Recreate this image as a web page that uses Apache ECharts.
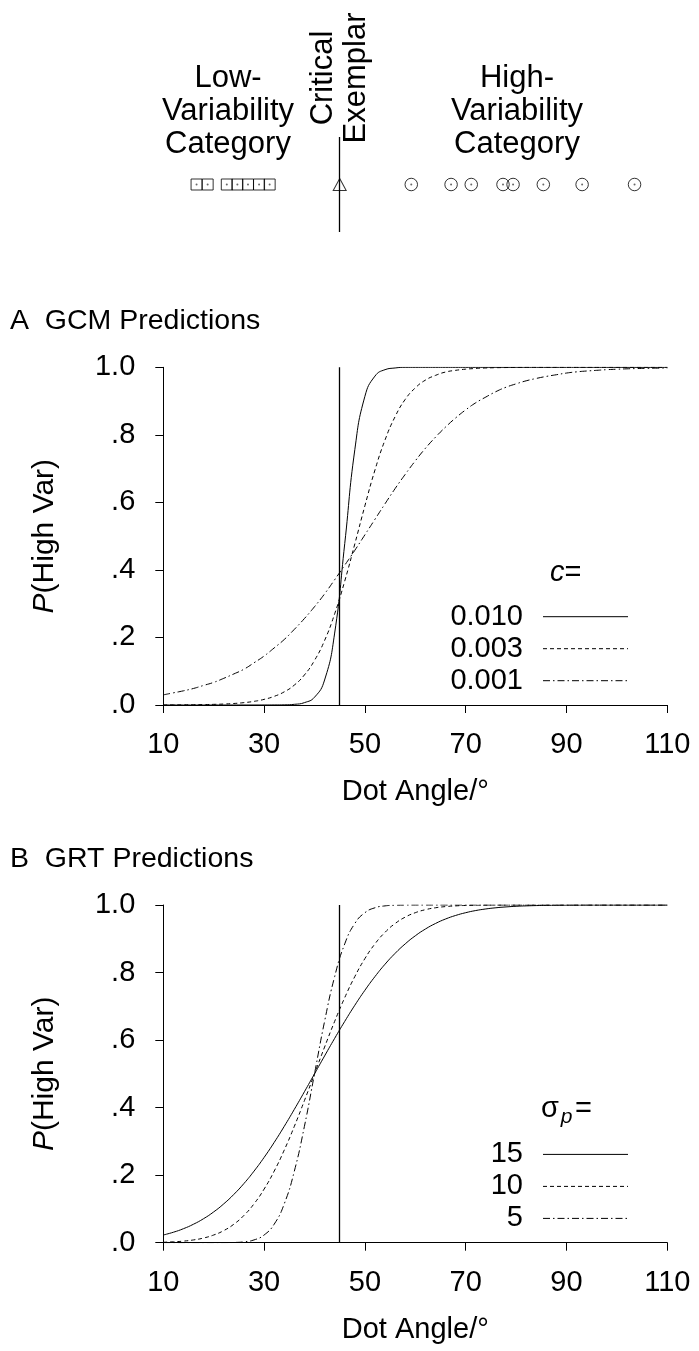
<!DOCTYPE html>
<html>
<head>
<meta charset="utf-8">
<script src="https://cdn.jsdelivr.net/npm/echarts@6/dist/echarts.min.js"></script>
<style>
html,body{margin:0;padding:0;background:#fff;}
#chart{width:699px;height:1351px;}
</style>
</head>
<body>
<div id="chart"></div>
<script>
// ---------- data ----------
const lowExemplars = [16.6, 18.8, 22.6, 24.7, 26.8, 29.0, 31.1];
const highExemplars = [59.2, 67.1, 71.1, 77.4, 79.4, 85.4, 93.1, 103.5];
const criticalExemplar = 45;

const angles = [10,12,14,16,18,20,22,24,26,28,30,32,34,36,38,40,42,44,46,48,50,52,54,56,58,60,62,64,66,68,70,72,74,76,78,80,82,84,86,88,90,92,94,96,98,100,102,104,106,108,110];

// Panel A: GCM predictions, P(High Var) at each angle
const gcmC010 = [0,0,0,0,0,0,0,0,0,0,
  0.0001,0.0002,0.0005,0.002,0.007,0.023,0.074,0.213,0.478,0.756,
  0.914,0.974,0.993,0.998,1,1,1,1,1,1,
  1,1,1,1,1,1,1,1,1,1,
  1,1,1,1,1,1,1,1,1,1,
  1];
const gcmC003 = [0.0002,0.0003,0.0005,0.0008,0.0012,0.0019,0.0029,0.0045,0.0070,0.0108,
  0.0167,0.0256,0.039,0.059,0.089,0.132,0.191,0.270,0.367,0.477,
  0.590,0.696,0.785,0.854,0.905,0.939,0.962,0.976,0.986,0.991,
  0.9945,0.9965,0.998,0.9988,0.9993,0.9996,1,1,1,1,
  1,1,1,1,1,1,1,1,1,1,
  1];
const gcmC001 = [0.030,0.036,0.042,0.049,0.058,0.067,0.079,0.092,0.106,0.125,
  0.145,0.169,0.194,0.224,0.256,0.291,0.329,0.371,0.414,0.458,
  0.504,0.550,0.596,0.641,0.683,0.723,0.760,0.793,0.823,0.850,
  0.874,0.895,0.912,0.928,0.941,0.951,0.960,0.967,0.973,0.978,
  0.983,0.9865,0.989,0.991,0.993,0.9943,0.9955,0.9963,0.997,0.9975,
  0.9978];

// Panel B: GRT predictions
const grtS15 = [0.0228,0.0310,0.0415,0.0548,0.0712,0.0912,0.1151,0.1431,0.1753,0.2119,
  0.2525,0.2969,0.3446,0.3949,0.4470,0.5,0.5530,0.6051,0.6554,0.7031,
  0.7475,0.7881,0.8247,0.8569,0.8849,0.9088,0.9288,0.9452,0.9585,0.9690,
  0.9772,0.9836,0.9883,0.9918,0.9943,0.9962,0.9974,0.9983,0.9989,0.9993,
  0.9996,0.9997,1,1,1,1,1,1,1,1,
  1];
const grtS10 = [0.0013,0.0026,0.0047,0.0082,0.0139,0.0228,0.0359,0.0548,0.0808,0.1151,
  0.1587,0.2119,0.2743,0.3446,0.4207,0.5,0.5793,0.6554,0.7257,0.7881,
  0.8413,0.8849,0.9192,0.9452,0.9641,0.9772,0.9861,0.9918,0.9953,0.9974,
  0.9987,0.9993,0.9997,1,1,1,1,1,1,1,
  1,1,1,1,1,1,1,1,1,1,
  1];
const grtS5 = [0,0,0,0,0,0,0.0002,0.0007,0.0026,0.0082,
  0.0228,0.0548,0.1151,0.2119,0.3446,0.5,0.6554,0.7881,0.8849,0.9452,
  0.9772,0.9918,0.9974,0.9993,0.9998,1,1,1,1,1,
  1,1,1,1,1,1,1,1,1,1,
  1,1,1,1,1,1,1,1,1,1,
  1];

const xTicks = [10, 30, 50, 70, 90, 110];
const yTickLabels = ['.0', '.2', '.4', '.6', '.8', '1.0'];
const gcmLegend = ['0.010', '0.003', '0.001'];
const grtLegend = ['15', '10', '5'];

// ---------- layout / style ----------
const FONT = '"Liberation Sans", Arial, Helvetica, sans-serif';
const FS = 29;
const GL = 163.3, GW = 504;
const panelTops = [367.3, 905];
const PH = 337.7;
const dashStyles = ['solid', [4, 3], [7, 3, 1.5, 3]];

const chart = echarts.init(document.getElementById('chart'), null, {renderer: 'canvas', width: 699, height: 1351});

const grids = [{left: GL, top: 137, width: GW, height: 95}];
panelTops.forEach(t => grids.push({left: GL, top: t, width: GW, height: PH}));

const xAxes = [{gridIndex: 0, type: 'value', min: 10, max: 110, show: false}];
const yAxes = [{gridIndex: 0, type: 'value', min: 0, max: 1, show: false}];
for (let i = 1; i <= 2; i++) {
  xAxes.push({
    gridIndex: i, type: 'value', min: 10, max: 110,
    axisLine: {show: true, onZero: false, lineStyle: {color: '#000', width: 1}},
    axisTick: {show: true, length: 8, customValues: xTicks, lineStyle: {color: '#000', width: 1}},
    axisLabel: {customValues: xTicks, fontSize: FS, fontFamily: FONT, color: '#000', margin: 40, verticalAlign: 'middle'},
    splitLine: {show: false},
    name: 'Dot Angle/°', nameLocation: 'middle', nameGap: 87,
    nameTextStyle: {fontSize: FS, fontFamily: FONT, color: '#000', verticalAlign: 'middle'}
  });
  yAxes.push({
    gridIndex: i, type: 'value', min: 0, max: 1, interval: 0.2,
    axisLine: {show: true, onZero: false, lineStyle: {color: '#000', width: 1}},
    axisTick: {show: true, length: 8, lineStyle: {color: '#000', width: 1}},
    axisLabel: {fontSize: FS, fontFamily: FONT, color: '#000', margin: 28,
      formatter: v => yTickLabels[Math.round(v * 5)]},
    splitLine: {show: false}
  });
}

const critLine = {
  symbol: ['none', 'none'], silent: true, label: {show: false},
  lineStyle: {color: '#000', width: 1.3, type: 'solid'},
  emphasis: {disabled: true},
  data: [{xAxis: criticalExemplar}]
};

const hollow = {color: 'rgba(0,0,0,0)', borderColor: '#000', borderWidth: 1};
const series = [
  {type: 'scatter', xAxisIndex: 0, yAxisIndex: 0, symbol: 'rect', symbolSize: 11,
   itemStyle: hollow, data: lowExemplars.map(v => [v, 0.5]), silent: true},
  {type: 'scatter', xAxisIndex: 0, yAxisIndex: 0, symbol: 'circle', symbolSize: 12.5,
   itemStyle: hollow, data: highExemplars.map(v => [v, 0.5]), silent: true},
  {type: 'scatter', xAxisIndex: 0, yAxisIndex: 0, symbol: 'triangle', symbolSize: [13, 12],
   itemStyle: hollow, data: [[criticalExemplar, 0.5]], silent: true, markLine: critLine},
  {type: 'scatter', xAxisIndex: 0, yAxisIndex: 0, symbol: 'circle', symbolSize: 2,
   itemStyle: {color: '#444'}, data: lowExemplars.concat(highExemplars).map(v => [v, 0.5]), silent: true}
];

function addLine(idx, ys, k, withMark) {
  const s = {
    type: 'line', xAxisIndex: idx, yAxisIndex: idx,
    data: angles.map((x, j) => [x, ys[j]]),
    showSymbol: false, symbol: 'none', smooth: 0.5,
    lineStyle: {color: '#000', width: 1, type: dashStyles[k]},
    silent: true
  };
  if (withMark) s.markLine = critLine;
  series.push(s);
}
addLine(1, gcmC010, 0, true);
addLine(1, gcmC003, 1, false);
addLine(1, gcmC001, 2, false);
addLine(2, grtS15, 0, true);
addLine(2, grtS10, 1, false);
addLine(2, grtS5, 2, false);

// ---------- text / legend graphics ----------
function txt(x, y, text, opts) {
  return Object.assign({
    type: 'text', x: x, y: y, silent: true,
    style: Object.assign({text: text, fontSize: FS, fontFamily: FONT, fill: '#000',
      align: 'center', verticalAlign: 'middle', textAlign: 'center', textVerticalAlign: 'middle'}, opts && opts.style)
  }, opts && opts.el);
}
const richBase = {fontSize: FS, fontFamily: FONT, fill: '#000', color: '#000'};
const graphics = [];
// top strip labels
graphics.push(txt(228, 111.5, 'Low-\nVariability\nCategory', {style: {lineHeight: 33, fontSize: 31}}));
graphics.push(txt(517, 111.5, 'High-\nVariability\nCategory', {style: {lineHeight: 33, fontSize: 31}}));
graphics.push(txt(339.5, 78, 'Critical\nExemplar', {style: {lineHeight: 33, fontSize: 31}, el: {rotation: Math.PI / 2}}));

const titles = ['A  GCM Predictions', 'B  GRT Predictions'];
panelTops.forEach((top, p) => {
  const base = top + PH;
  graphics.push(txt(10, top - 46, titles[p], {style: {align: 'left', textAlign: 'left', fontSize: 28.5}}));
  // y axis name
  const yn = Object.assign({}, richBase, {fontSize: 30});
  graphics.push({
    type: 'text', x: 45, y: top + PH / 2, rotation: Math.PI / 2, silent: true,
    style: {text: '{i|P}{n|(High Var)}', align: 'center', verticalAlign: 'middle',
      textAlign: 'center', textVerticalAlign: 'middle', fontSize: 30, fontFamily: FONT, fill: '#000',
      rich: {i: Object.assign({fontStyle: 'italic'}, yn), n: yn}}
  });
  // legend header
  if (p === 0) {
    graphics.push({
      type: 'text', x: 550, y: base - 132, silent: true,
      style: {text: '{i|c}{n|=}', align: 'left', verticalAlign: 'middle', textAlign: 'left', textVerticalAlign: 'middle',
        fontSize: FS, fontFamily: FONT, fill: '#000',
        rich: {i: Object.assign({fontStyle: 'italic'}, richBase), n: richBase}}
    });
  } else {
    graphics.push(txt(550, base - 134, 'σ', {style: {}}));
    graphics.push(txt(566.5, base - 126, 'p', {style: {fontSize: 21, fontStyle: 'italic'}}));
    graphics.push(txt(583.5, base - 134, '=', {style: {}}));
  }
  const labels = p === 0 ? gcmLegend : grtLegend;
  [-88.3, -56.3, -24.3].forEach((dy, k) => {
    const y = base + dy;
    graphics.push(txt(523, y, labels[k], {style: {align: 'right', textAlign: 'right'}}));
    graphics.push({
      type: 'line', silent: true,
      shape: {x1: 543, y1: y, x2: 628, y2: y},
      style: {stroke: '#000', lineWidth: 1, lineDash: dashStyles[k] === 'solid' ? null : dashStyles[k]}
    });
  });
});

chart.setOption({
  animation: false,
  backgroundColor: '#fff',
  grid: grids,
  xAxis: xAxes,
  yAxis: yAxes,
  series: series,
  graphic: graphics
});
</script>
</body>
</html>
